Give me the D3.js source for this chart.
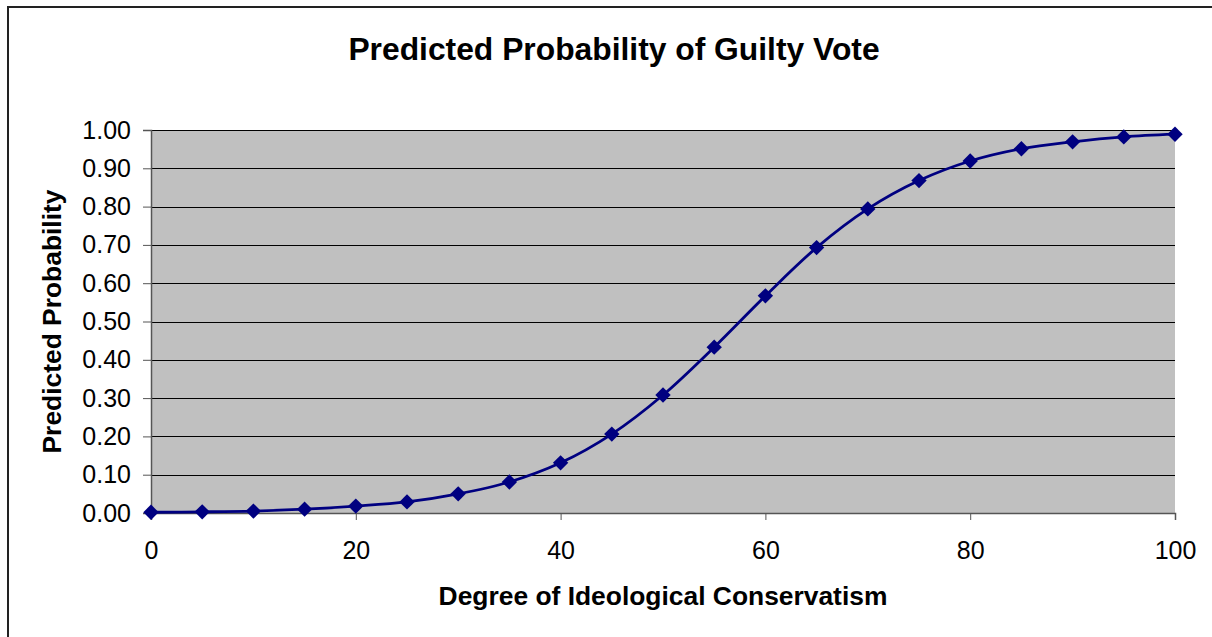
<!DOCTYPE html>
<html>
<head>
<meta charset="utf-8">
<script src="https://cdn.jsdelivr.net/npm/d3@7"></script>
<style>
  html, body { margin: 0; padding: 0; background: #fff; }
  svg { display: block; font-family: "Liberation Sans", Arial, sans-serif; }
</style>
</head>
<body>
<svg id="chart" width="1212" height="637"></svg>
<script>
// Ideology score (x) and predicted probability of a guilty vote (y)
const conservatism = [0, 5, 10, 15, 20, 25, 30, 35, 40, 45, 50, 55, 60, 65, 70, 75, 80, 85, 90, 95, 100];
const probability = [0.002, 0.003, 0.005, 0.010, 0.018, 0.029, 0.050, 0.081, 0.131, 0.206, 0.308,
                     0.433, 0.567, 0.693, 0.794, 0.868, 0.919, 0.951, 0.969, 0.982, 0.989];
const xTicks = [0, 20, 40, 60, 80, 100];
const yTicks = [0, 0.1, 0.2, 0.3, 0.4, 0.5, 0.6, 0.7, 0.8, 0.9, 1.0];

const svg = d3.select("#chart");
const W = 1212, H = 637;
const plot = { left: 151, right: 1175, top: 130, bottom: 513 };

// outer chart frame
svg.append("rect")
  .attr("x", 8).attr("y", 7)
  .attr("width", W + 20).attr("height", H + 20)
  .attr("fill", "#fff").attr("stroke", "#222").attr("stroke-width", 2);

const x = d3.scaleLinear().domain([0, 100]).range([plot.left, plot.right]);
const y = d3.scaleLinear().domain([0, 1]).range([plot.bottom, plot.top]);

// plot area background
svg.append("rect")
  .attr("x", plot.left).attr("y", plot.top)
  .attr("width", plot.right - plot.left).attr("height", plot.bottom - plot.top)
  .attr("fill", "#c0c0c0");

// horizontal gridlines
svg.append("g")
  .selectAll("line")
  .data(yTicks.slice(1))
  .join("line")
  .attr("x1", plot.left).attr("x2", plot.right)
  .attr("y1", d => Math.round(y(d)) + 0.5).attr("y2", d => Math.round(y(d)) + 0.5)
  .attr("stroke", "#000").attr("stroke-width", 1);

// y axis
const yAxis = svg.append("g")
  .attr("transform", `translate(${plot.left},0)`)
  .call(d3.axisLeft(y).tickValues(yTicks).tickFormat(d3.format(".2f")).tickSize(8).tickPadding(12));
yAxis.select(".domain").attr("stroke", "#555").attr("stroke-width", 1.5);
yAxis.selectAll(".tick line").attr("stroke", "#555");
yAxis.selectAll("text").attr("font-size", 25).attr("fill", "#000")
  .attr("font-family", "Liberation Sans, Arial, sans-serif");

// x axis
const xAxis = svg.append("g")
  .attr("transform", `translate(0,${plot.bottom})`)
  .call(d3.axisBottom(x).tickValues(xTicks).tickSize(7).tickPadding(21));
xAxis.select(".domain").attr("stroke", "#555").attr("stroke-width", 1.5);
xAxis.selectAll(".tick line").attr("stroke", "#555");
xAxis.selectAll("text").attr("font-size", 25).attr("fill", "#000")
  .attr("font-family", "Liberation Sans, Arial, sans-serif");

const pts = conservatism.map((c, i) => [c, probability[i]]);

// smoothed series line
svg.append("path")
  .datum(pts)
  .attr("fill", "none")
  .attr("stroke", "#000080")
  .attr("stroke-width", 2.8)
  .attr("d", d3.line().x(d => x(d[0])).y(d => y(d[1])).curve(d3.curveCatmullRom.alpha(0.5)));

// diamond markers
svg.append("g")
  .selectAll("path")
  .data(pts)
  .join("path")
  .attr("transform", d => `translate(${x(d[0])},${y(d[1])}) rotate(45)`)
  .attr("d", d3.symbol().type(d3.symbolSquare).size(118))
  .attr("fill", "#000080");

// titles
svg.append("text")
  .attr("x", 614).attr("y", 60)
  .attr("text-anchor", "middle")
  .attr("font-size", 31.8).attr("font-weight", "bold")
  .text("Predicted Probability of Guilty Vote");

svg.append("text")
  .attr("x", (plot.left + plot.right) / 2).attr("y", 605)
  .attr("text-anchor", "middle")
  .attr("font-size", 26.4).attr("font-weight", "bold")
  .text("Degree of Ideological Conservatism");

svg.append("text")
  .attr("transform", `translate(61,${(plot.top + plot.bottom) / 2}) rotate(-90)`)
  .attr("text-anchor", "middle")
  .attr("font-size", 26.4).attr("font-weight", "bold")
  .text("Predicted Probability");
</script>
</body>
</html>
